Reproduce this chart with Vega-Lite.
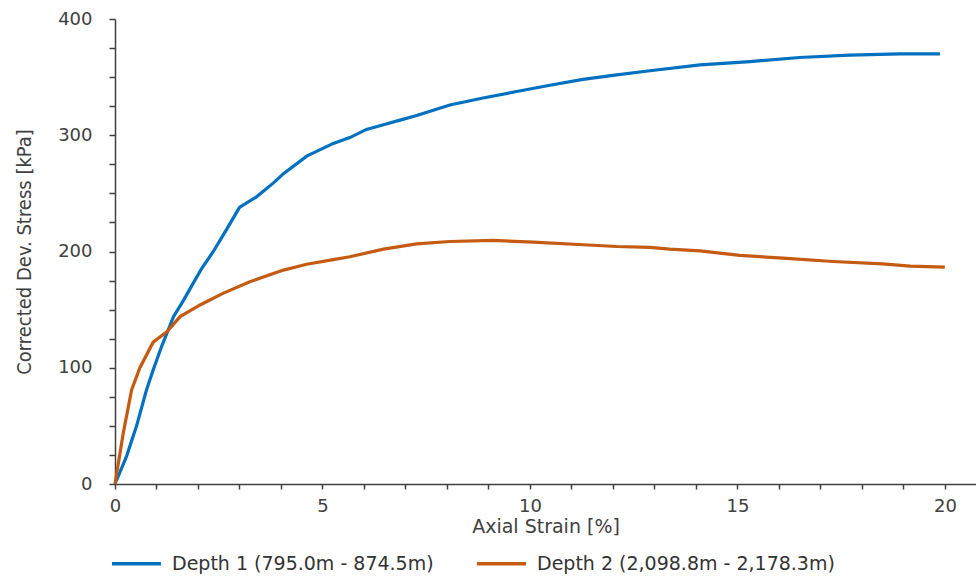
{
  "$schema": "https://vega.github.io/schema/vega-lite/v6.json",
  "autosize": "none",
  "padding": {"left": 115, "top": 19, "right": 0, "bottom": 92},
  "width": 861,
  "height": 465,
  "background": "white",
  "config": {"view": {"stroke": null}, "axis": {"grid": false}},
  "data": {
    "values": [
      {"series": "Depth 1 (795.0m - 874.5m)", "strain": 0, "stress": 0},
      {"series": "Depth 1 (795.0m - 874.5m)", "strain": 0.28, "stress": 24},
      {"series": "Depth 1 (795.0m - 874.5m)", "strain": 0.52, "stress": 50},
      {"series": "Depth 1 (795.0m - 874.5m)", "strain": 0.76, "stress": 81},
      {"series": "Depth 1 (795.0m - 874.5m)", "strain": 0.92, "stress": 98},
      {"series": "Depth 1 (795.0m - 874.5m)", "strain": 1.12, "stress": 118},
      {"series": "Depth 1 (795.0m - 874.5m)", "strain": 1.41, "stress": 144},
      {"series": "Depth 1 (795.0m - 874.5m)", "strain": 1.65, "stress": 158},
      {"series": "Depth 1 (795.0m - 874.5m)", "strain": 1.89, "stress": 173},
      {"series": "Depth 1 (795.0m - 874.5m)", "strain": 2.1, "stress": 186},
      {"series": "Depth 1 (795.0m - 874.5m)", "strain": 2.37, "stress": 200},
      {"series": "Depth 1 (795.0m - 874.5m)", "strain": 2.69, "stress": 219},
      {"series": "Depth 1 (795.0m - 874.5m)", "strain": 3.0, "stress": 238},
      {"series": "Depth 1 (795.0m - 874.5m)", "strain": 3.41, "stress": 247},
      {"series": "Depth 1 (795.0m - 874.5m)", "strain": 3.82, "stress": 259},
      {"series": "Depth 1 (795.0m - 874.5m)", "strain": 4.06, "stress": 267},
      {"series": "Depth 1 (795.0m - 874.5m)", "strain": 4.62, "stress": 282},
      {"series": "Depth 1 (795.0m - 874.5m)", "strain": 5.26, "stress": 293},
      {"series": "Depth 1 (795.0m - 874.5m)", "strain": 5.66, "stress": 298},
      {"series": "Depth 1 (795.0m - 874.5m)", "strain": 6.06, "stress": 305},
      {"series": "Depth 1 (795.0m - 874.5m)", "strain": 6.47, "stress": 309},
      {"series": "Depth 1 (795.0m - 874.5m)", "strain": 6.87, "stress": 313},
      {"series": "Depth 1 (795.0m - 874.5m)", "strain": 7.27, "stress": 317},
      {"series": "Depth 1 (795.0m - 874.5m)", "strain": 8.07, "stress": 326},
      {"series": "Depth 1 (795.0m - 874.5m)", "strain": 8.87, "stress": 332},
      {"series": "Depth 1 (795.0m - 874.5m)", "strain": 9.68, "stress": 337.6},
      {"series": "Depth 1 (795.0m - 874.5m)", "strain": 10.48, "stress": 343},
      {"series": "Depth 1 (795.0m - 874.5m)", "strain": 11.28, "stress": 348},
      {"series": "Depth 1 (795.0m - 874.5m)", "strain": 12.09, "stress": 352},
      {"series": "Depth 1 (795.0m - 874.5m)", "strain": 12.89, "stress": 355.5},
      {"series": "Depth 1 (795.0m - 874.5m)", "strain": 14.1, "stress": 360.6},
      {"series": "Depth 1 (795.0m - 874.5m)", "strain": 15.3, "stress": 363.4},
      {"series": "Depth 1 (795.0m - 874.5m)", "strain": 16.5, "stress": 366.9},
      {"series": "Depth 1 (795.0m - 874.5m)", "strain": 17.7, "stress": 368.9},
      {"series": "Depth 1 (795.0m - 874.5m)", "strain": 18.92, "stress": 370},
      {"series": "Depth 1 (795.0m - 874.5m)", "strain": 19.88, "stress": 370},
      {"series": "Depth 2 (2,098.8m - 2,178.3m)", "strain": 0, "stress": 0},
      {"series": "Depth 2 (2,098.8m - 2,178.3m)", "strain": 0.2, "stress": 44},
      {"series": "Depth 2 (2,098.8m - 2,178.3m)", "strain": 0.4, "stress": 81},
      {"series": "Depth 2 (2,098.8m - 2,178.3m)", "strain": 0.6, "stress": 100},
      {"series": "Depth 2 (2,098.8m - 2,178.3m)", "strain": 0.92, "stress": 122},
      {"series": "Depth 2 (2,098.8m - 2,178.3m)", "strain": 1.25, "stress": 131},
      {"series": "Depth 2 (2,098.8m - 2,178.3m)", "strain": 1.57, "stress": 144},
      {"series": "Depth 2 (2,098.8m - 2,178.3m)", "strain": 2.05, "stress": 154},
      {"series": "Depth 2 (2,098.8m - 2,178.3m)", "strain": 2.6, "stress": 164},
      {"series": "Depth 2 (2,098.8m - 2,178.3m)", "strain": 3.25, "stress": 174},
      {"series": "Depth 2 (2,098.8m - 2,178.3m)", "strain": 4.06, "stress": 184},
      {"series": "Depth 2 (2,098.8m - 2,178.3m)", "strain": 4.62, "stress": 189},
      {"series": "Depth 2 (2,098.8m - 2,178.3m)", "strain": 5.26, "stress": 193},
      {"series": "Depth 2 (2,098.8m - 2,178.3m)", "strain": 5.66, "stress": 195.5},
      {"series": "Depth 2 (2,098.8m - 2,178.3m)", "strain": 6.47, "stress": 202},
      {"series": "Depth 2 (2,098.8m - 2,178.3m)", "strain": 7.27, "stress": 206.5},
      {"series": "Depth 2 (2,098.8m - 2,178.3m)", "strain": 8.07, "stress": 208.6},
      {"series": "Depth 2 (2,098.8m - 2,178.3m)", "strain": 9.12, "stress": 209.5},
      {"series": "Depth 2 (2,098.8m - 2,178.3m)", "strain": 10.08, "stress": 208},
      {"series": "Depth 2 (2,098.8m - 2,178.3m)", "strain": 11.28, "stress": 205.8},
      {"series": "Depth 2 (2,098.8m - 2,178.3m)", "strain": 12.09, "stress": 204.3},
      {"series": "Depth 2 (2,098.8m - 2,178.3m)", "strain": 12.89, "stress": 203.5},
      {"series": "Depth 2 (2,098.8m - 2,178.3m)", "strain": 13.37, "stress": 202},
      {"series": "Depth 2 (2,098.8m - 2,178.3m)", "strain": 14.1, "stress": 200.5},
      {"series": "Depth 2 (2,098.8m - 2,178.3m)", "strain": 15.06, "stress": 196.6},
      {"series": "Depth 2 (2,098.8m - 2,178.3m)", "strain": 16.1, "stress": 194.3},
      {"series": "Depth 2 (2,098.8m - 2,178.3m)", "strain": 17.3, "stress": 191.4},
      {"series": "Depth 2 (2,098.8m - 2,178.3m)", "strain": 18.5, "stress": 189.4},
      {"series": "Depth 2 (2,098.8m - 2,178.3m)", "strain": 19.16, "stress": 187.5},
      {"series": "Depth 2 (2,098.8m - 2,178.3m)", "strain": 20, "stress": 186.6}
    ]
  },
  "mark": {"type": "line", "strokeWidth": 3.2, "clip": false},
  "encoding": {
    "x": {
      "field": "strain",
      "type": "quantitative",
      "scale": {"domain": [0, 20.75], "nice": false, "zero": false},
      "axis": {
        "title": "Axial Strain [%]",
        "values": [0,1,2,3,4,5,6,7,8,9,10,11,12,13,14,15,16,17,18,19,20],
        "labelExpr": "datum.value % 5 === 0 ? datum.label : ''",
        "labelOverlap": false,
        "labelFlush": false,
        "labelBound": false,
        "tickSize": 5,
        "tickWidth": 1.5,
        "tickColor": "#404040",
        "domainColor": "#404040",
        "domainWidth": 1.5,
        "labelFont": "DejaVu Sans",
        "labelFontSize": 18,
        "labelColor": "#404040",
        "labelPadding": 8,
        "titleFont": "DejaVu Sans",
        "titleFontSize": 19,
        "titleFontWeight": "normal",
        "titleColor": "#404040",
        "titlePadding": 2
      }
    },
    "y": {
      "field": "stress",
      "type": "quantitative",
      "scale": {"domain": [0, 400], "nice": false},
      "axis": {
        "title": "Corrected Dev. Stress [kPa]",
        "values": [0,25,50,75,100,125,150,175,200,225,250,275,300,325,350,375,400],
        "labelExpr": "datum.value % 100 === 0 ? datum.label : ''",
        "labelOverlap": false,
        "labelFlush": false,
        "labelBound": false,
        "tickSize": 6,
        "tickWidth": 1.5,
        "tickColor": "#404040",
        "domainColor": "#404040",
        "domainWidth": 1.5,
        "labelFont": "DejaVu Sans",
        "labelFontSize": 18,
        "labelColor": "#404040",
        "labelPadding": 17,
        "titleFont": "'DejaVu Sans Condensed', Roboto, sans-serif",
        "titleFontSize": 20,
        "titleFontWeight": "normal",
        "titleColor": "#404040",
        "titlePadding": 23
      }
    },
    "color": {
      "field": "series",
      "type": "nominal",
      "scale": {
        "domain": ["Depth 1 (795.0m - 874.5m)", "Depth 2 (2,098.8m - 2,178.3m)"],
        "range": ["#0070C0", "#C55A11"]
      },
      "legend": {
        "title": null,
        "orient": "none",
        "legendX": -5,
        "legendY": 518,
        "direction": "horizontal",
        "padding": 0,
        "symbolType": "stroke",
        "symbolSize": 2400,
        "symbolStrokeWidth": 3.5,
        "labelFont": "DejaVu Sans",
        "labelFontSize": 19,
        "labelColor": "#333333",
        "labelOffset": 9,
        "columnPadding": 36,
        "labelLimit": 500
      }
    }
  }
}
